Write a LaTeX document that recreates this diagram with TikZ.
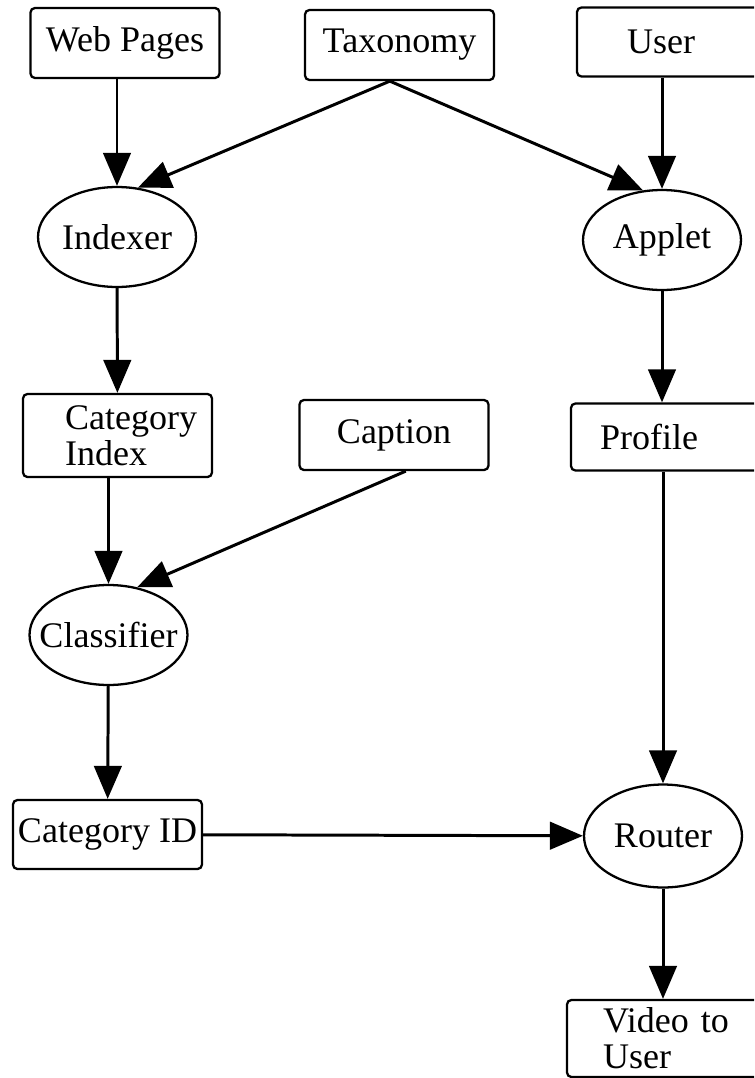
\documentclass[tikz,border=0pt]{standalone}
\usepackage{fontspec}
\setmainfont{Liberation Serif}
\usetikzlibrary{shapes.geometric,arrows.meta}

\begin{document}
\begin{tikzpicture}[x=0.02cm, y=-0.02cm,
    every node/.style={font=\fontsize{20.5}{20.5}\selectfont},
    box/.style={draw, rounded corners=2.5pt, line width=1.3pt, minimum width=3.78cm},
    proc/.style={draw, ellipse, line width=1.3pt, minimum width=3.16cm, minimum height=2cm,
      inner xsep=-0.3cm, inner ysep=0pt},
    flow/.style={-{Triangle[length=0.66cm,width=0.55cm]}, line width=1.7pt}]
  \useasboundingbox (0,0) rectangle (754,1078);
  \clip (0,0) rectangle (754,1078);

  % sources
  \node[box, minimum height=1.4cm] (web) at (125,43) {Web Pages};
  \node[box, minimum height=1.4cm] (tax) at (399.5,45) {Taxonomy};
  \node[box, minimum height=1.38cm, align=left, text width=1.8cm, inner xsep=1cm] (user) at (672,42) {User};

  % left column
  \node[proc] (idx) at (117,237) {Indexer};
  \node[box, minimum height=1.66cm, align=left, text width=2.1cm, inner xsep=0.84cm] (catidx) at (117.5,435.5) {\mbox{Category}\\Index};
  \node[box, minimum height=1.4cm] (cap) at (394,435) {Caption};
  \node[proc] (cls) at (108.5,635) {Classifier};
  \node[box, minimum height=1.38cm, inner xsep=2pt] (catid) at (107.5,834.5) {Category ID};

  % right column
  \node[proc] (applet) at (662,240) {Applet};
  \node[box, minimum height=1.34cm, align=left, text width=2.64cm, inner xsep=0.58cm] (profile) at (666,437) {Profile};
  \node[proc, minimum height=2.06cm] (router) at (663,836) {Router};
  \node[box, minimum height=1.54cm, align=left, text width=2.7cm, inner xsep=0.72cm] (video) at (670.5,1038.5) {Video to\\User};

  \path[flow]
  (web.south -| idx) edge (idx)
  (tax.255) edge (idx.67)
            edge (applet.111)
  (user.south -| applet) edge (applet)
  (idx) edge (catidx)
  (applet) edge (applet |- profile.north)
  (catidx.south -| cls) edge (cls)
  (cap.288) edge (cls.59)
  (cls) edge (catid)
  (profile.south -| router) edge (router)
  (catid) edge (router)
  (router) edge (router |- video.north)
  ;
\end{tikzpicture}
\end{document}
